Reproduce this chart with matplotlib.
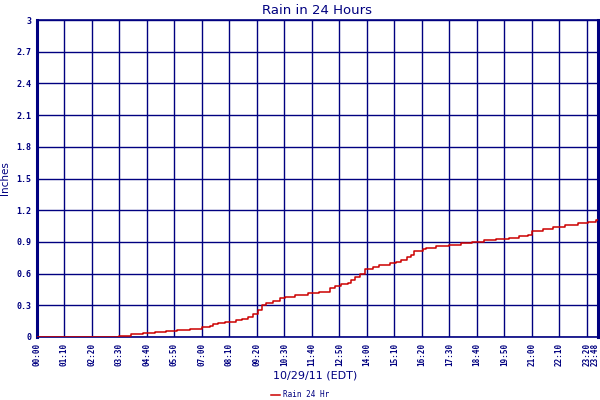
import numpy as np
import matplotlib.pyplot as plt
import matplotlib.transforms as mtransforms

NAVY = '#000080'
RED = '#cc0000'

# minutes after midnight where the rain total steps up, and the total (inches)
minutes = [0, 209, 241, 271, 301, 330, 358, 389, 420, 440, 449, 461, 480, 506, 521,
           538, 550, 563, 572, 584, 601, 618, 631, 656, 690, 717, 745, 758, 775,
           792, 800, 809, 822, 834, 855, 871, 898, 915, 927, 942, 953, 961, 982,
           991, 1016, 1050, 1080, 1108, 1137, 1169, 1201, 1228, 1249, 1260, 1287,
           1314, 1345, 1376, 1402, 1423, 1428]
rain = [0.00, 0.01, 0.03, 0.04, 0.05, 0.06, 0.07, 0.08, 0.09, 0.10, 0.12, 0.13, 0.14,
        0.16, 0.17, 0.19, 0.22, 0.26, 0.30, 0.32, 0.34, 0.37, 0.38, 0.40, 0.42, 0.43,
        0.46, 0.48, 0.50, 0.51, 0.54, 0.57, 0.60, 0.64, 0.66, 0.68, 0.70, 0.71, 0.73,
        0.76, 0.78, 0.81, 0.83, 0.84, 0.86, 0.87, 0.89, 0.90, 0.92, 0.93, 0.94, 0.96,
        0.97, 1.00, 1.02, 1.04, 1.06, 1.08, 1.09, 1.11, 1.11]

tick_minutes = list(range(0, 1401, 70)) + [1428]
tick_labels = ['%02d:%02d' % (m // 60, m % 60) for m in tick_minutes]
y_ticks = [0, 0.3, 0.6, 0.9, 1.2, 1.5, 1.8, 2.1, 2.4, 2.7, 3]
y_labels = ['0', '0.3', '0.6', '0.9', '1.2', '1.5', '1.8', '2.1', '2.4', '2.7', '3']

fig = plt.figure(figsize=(6, 4), dpi=100)
ax = fig.add_axes([0.0612, 0.1575, 0.9355, 0.7925])

ax.step(minutes, rain, where='post', color=RED, lw=1.1, label='Rain 24 Hr', zorder=3)

ax.set_xlim(0, 1428)
ax.set_ylim(0, 3)
ax.set_xticks(tick_minutes)
ax.set_xticklabels(tick_labels, rotation=90, family='DejaVu Sans Mono',
                   fontsize=5.5, color=NAVY, fontweight='bold')
ax.set_yticks(y_ticks)
ax.set_yticklabels(y_labels, family='DejaVu Sans Mono', fontsize=6,
                   color=NAVY, fontweight='bold')
ax.tick_params(length=0, pad=4)
# pull the last label (23:48) a little inside the figure
last = ax.get_xticklabels()[-1]
last.set_transform(last.get_transform() +
                   mtransforms.ScaledTranslation(-3 / 100, 0, fig.dpi_scale_trans))

ax.grid(True, color=NAVY, lw=1.0)
ax.set_axisbelow(True)
for side, sp in ax.spines.items():
    sp.set_color(NAVY)
    sp.set_linewidth(2.2 if side in ('left', 'right') else 1.2)

ax.set_title('Rain in 24 Hours', color=NAVY, fontsize=9.5, pad=4)
ax.set_ylabel('Inches', color=NAVY, fontsize=7.5)
ax.yaxis.set_label_coords(-0.048, 0.5)
fig.text(0.525, 0.055, '10/29/11 (EDT)', color=NAVY, fontsize=8, ha='center')

leg = fig.legend(loc='center', bbox_to_anchor=(0.5, 0.013), frameon=False,
                 fontsize=5.5, handlelength=1.2, handletextpad=0.4)
for t in leg.get_texts():
    t.set_color(NAVY)
    t.set_family('DejaVu Sans Mono')

fig.savefig('out.png', dpi=100)
